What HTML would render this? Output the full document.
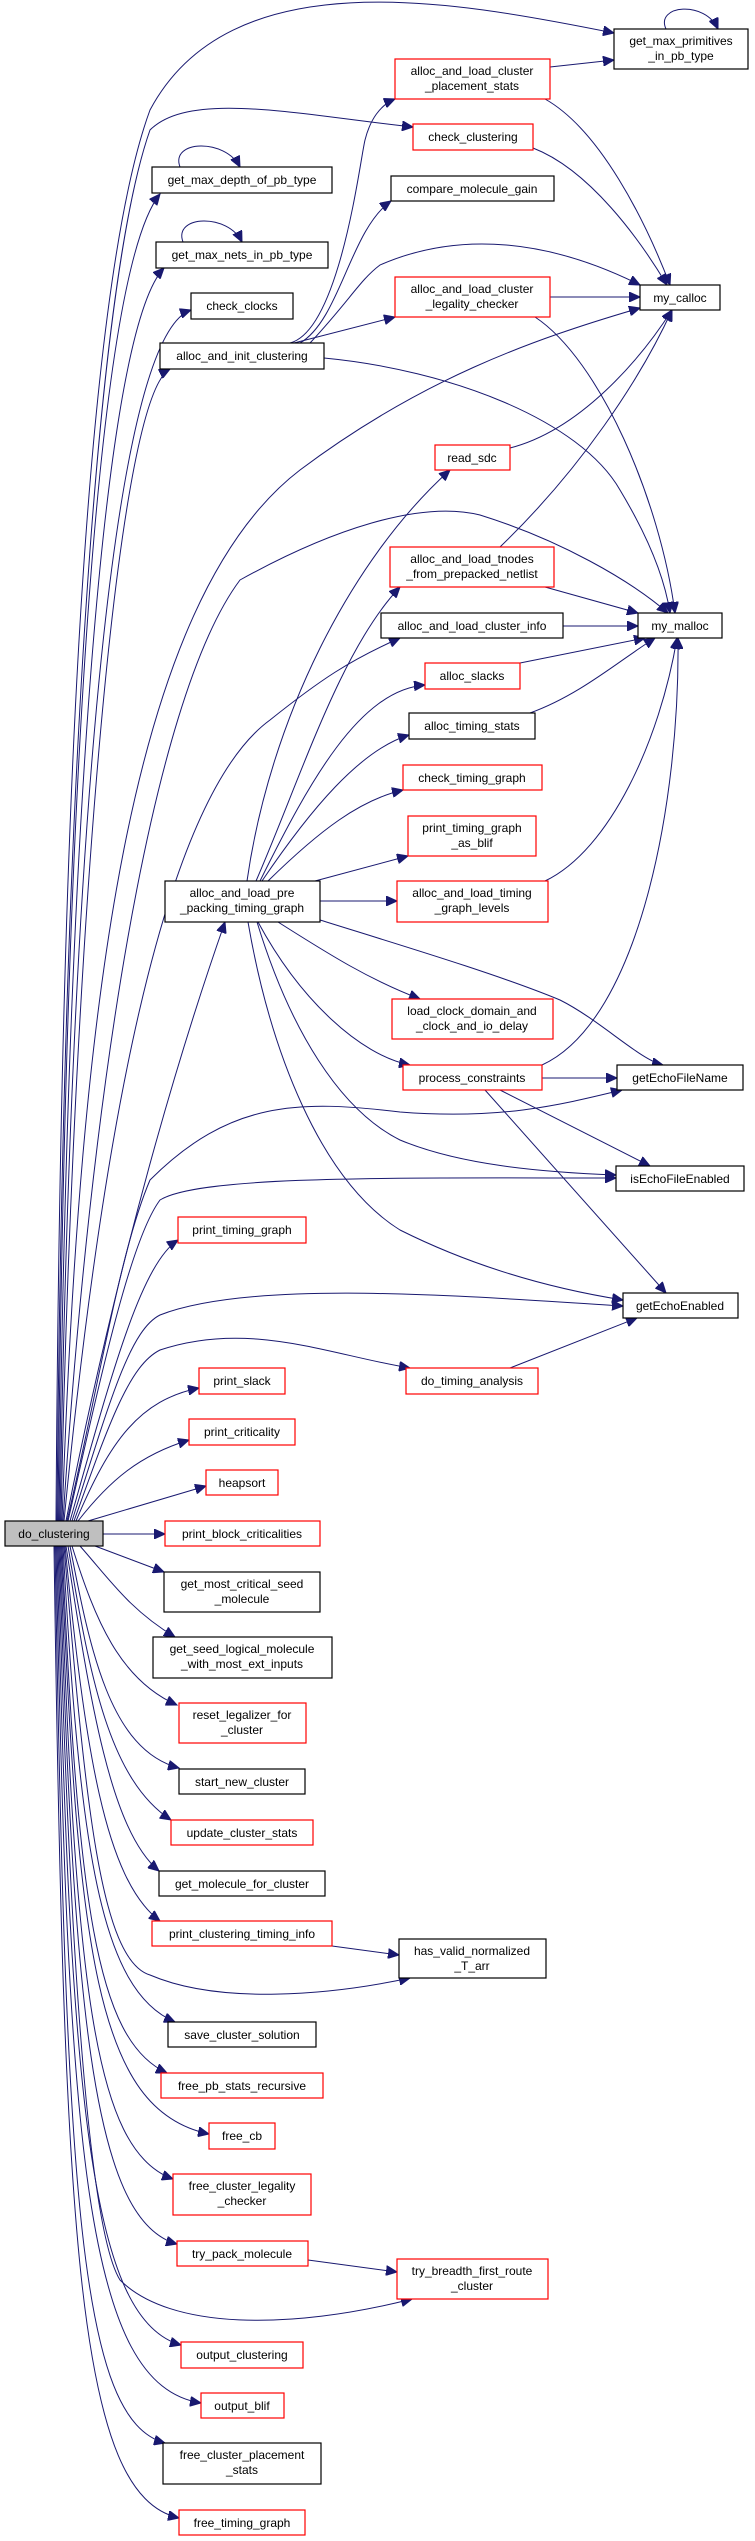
<!DOCTYPE html>
<html><head><meta charset="utf-8"><style>
html,body{margin:0;padding:0;background:#fff;}
svg{display:block;}
text{font-family:"Liberation Sans",Arial,sans-serif;font-size:12px;fill:#000;}
.b{fill:#fff;stroke:#000;stroke-width:1.2;}
.r{fill:#fff;stroke:#ff0000;stroke-width:1.2;}
.g{fill:#bfbfbf;stroke:#000;stroke-width:1.2;}
.e{fill:none;stroke:#191970;stroke-width:1;marker-end:url(#a);}
</style></head><body>
<svg width="755" height="2541" viewBox="0 0 755 2541" xmlns="http://www.w3.org/2000/svg">
<defs><marker id="a" markerUnits="userSpaceOnUse" markerWidth="12" markerHeight="10" refX="11" refY="5" orient="auto"><path d="M0,0 L11,5 L0,10 Z" fill="#191970" stroke="#191970"/></marker></defs>

<!-- edges from do_clustering upward -->
<path class="e" d="M56,1521 C60,900 80,300 150,110 C230,-40 450,0 614,33"/>
<path class="e" d="M57,1521 C62,900 90,300 150,130 C190,90 300,115 413,127"/>
<path class="e" d="M58,1521 C64,900 90,280 160,194"/>
<path class="e" d="M59,1521 C66,950 95,340 164,268"/>
<path class="e" d="M60,1521 C68,1000 100,340 191,310"/>
<path class="e" d="M61,1521 C70,1050 110,400 170,369"/>
<path class="e" d="M62,1521 C80,1000 130,600 300,470 C420,380 530,340 640,308"/>
<path class="e" d="M63,1521 C90,1100 150,700 240,580 C330,530 420,500 480,515 C560,540 630,580 668,613"/>
<path class="e" d="M64,1521 C100,1150 160,800 270,720 C320,680 350,660 400,638"/>
<path class="e" d="M66,1521 C120,1250 180,1050 225,922"/>
<path class="e" d="M67,1521 C100,1380 120,1250 150,1180 C230,1100 300,1100 400,1112 C500,1120 560,1105 622,1090"/>
<path class="e" d="M68,1521 C100,1380 130,1240 160,1200 C200,1175 400,1178 616,1178"/>
<path class="e" d="M70,1521 C110,1380 140,1265 178,1240"/>
<path class="e" d="M72,1521 C110,1400 130,1330 160,1315 C250,1280 450,1295 623,1306"/>
<path class="e" d="M74,1521 C110,1420 130,1365 160,1350 C250,1320 330,1355 410,1368"/>
<path class="e" d="M76,1521 C110,1440 140,1400 199,1388"/>
<path class="e" d="M78,1521 C110,1480 140,1455 189,1440"/>
<path class="e" d="M88,1521 L206,1486"/>
<!-- downward -->
<path class="e" d="M103,1534 L165,1534"/>
<path class="e" d="M95,1546 L164,1572"/>
<path class="e" d="M80,1546 C110,1580 130,1610 175,1637"/>
<path class="e" d="M72,1546 C95,1620 120,1680 177,1705"/>
<path class="e" d="M70,1546 C90,1650 110,1750 179,1768"/>
<path class="e" d="M68,1546 C90,1680 110,1780 171,1820"/>
<path class="e" d="M66,1546 C90,1700 110,1830 159,1871"/>
<path class="e" d="M65,1546 C85,1750 105,1880 160,1921"/>
<path class="e" d="M64,1546 C85,1800 100,1960 150,1975 C220,2005 330,1995 410,1978"/>
<path class="e" d="M63,1546 C80,1850 100,1990 175,2022"/>
<path class="e" d="M62,1546 C78,1900 95,2040 167,2073"/>
<path class="e" d="M61,1546 C78,1950 95,2110 209,2134"/>
<path class="e" d="M60,1546 C76,1980 92,2150 173,2179"/>
<path class="e" d="M59,1546 C74,2000 90,2220 177,2244"/>
<path class="e" d="M58,1546 C72,2050 95,2240 120,2280 C170,2330 290,2330 412,2299"/>
<path class="e" d="M57,1546 C70,2100 90,2320 181,2345"/>
<path class="e" d="M56,1546 C68,2150 85,2385 201,2403"/>
<path class="e" d="M55,1546 C66,2200 80,2420 165,2443"/>
<path class="e" d="M54,1546 C64,2250 78,2495 179,2518"/>

<!-- alloc_and_init_clustering -->
<path class="e" d="M290,343 C340,330 360,160 365,140 C370,120 380,105 395,99"/>
<path class="e" d="M300,343 C340,320 350,230 391,201"/>
<path class="e" d="M294,343 L395,317"/>
<path class="e" d="M310,343 C350,300 360,280 380,265 C460,230 550,240 640,285"/>
<path class="e" d="M324,358 C450,370 580,420 620,490 C650,540 665,580 670,613"/>
<!-- others -->
<path class="e" d="M550,67 L614,60"/>
<path class="e" d="M545,99 C600,130 645,220 670,285"/>
<path class="e" d="M533,148 C590,170 640,240 667,285"/>
<path class="e" d="M550,297 L640,297"/>
<path class="e" d="M535,317 C600,360 660,500 675,613"/>
<path class="e" d="M510,448 C580,430 640,360 672,310"/>
<path class="e" d="M500,547 C580,470 640,380 672,310"/>
<path class="e" d="M545,587 L638,613"/>
<path class="e" d="M563,626 L638,626"/>
<path class="e" d="M520,663 L645,638"/>
<path class="e" d="M530,713 C580,695 620,660 655,638"/>
<path class="e" d="M545,881 C610,850 660,740 677,638"/>
<path class="e" d="M542,1065 C640,1020 680,800 678,638"/>
<path class="e" d="M542,1078 L617,1078"/>
<path class="e" d="M500,1090 L650,1166"/>
<path class="e" d="M485,1090 L666,1293"/>
<path class="e" d="M510,1368 L637,1318"/>
<path class="e" d="M332,1946 L399,1955"/>
<path class="e" d="M308,2260 L397,2272"/>
<!-- pre_packing -->
<path class="e" d="M247,881 C270,720 350,560 450,470"/>
<path class="e" d="M256,881 C300,780 340,650 400,587"/>
<path class="e" d="M260,881 C310,780 360,690 425,685"/>
<path class="e" d="M262,881 C310,810 360,750 409,735"/>
<path class="e" d="M268,881 C320,830 360,800 403,790"/>
<path class="e" d="M315,881 L408,856"/>
<path class="e" d="M320,901 L397,901"/>
<path class="e" d="M320,920 C400,945 500,975 560,1000 C600,1020 640,1060 663,1065"/>
<path class="e" d="M278,922 C330,955 370,980 420,999"/>
<path class="e" d="M258,922 C300,1000 360,1055 410,1065"/>
<path class="e" d="M257,922 C290,1030 340,1110 400,1140 C460,1165 540,1172 616,1175"/>
<path class="e" d="M248,922 C270,1050 320,1180 400,1230 C480,1270 560,1290 623,1300"/>
<!-- self loops -->
<path class="e" d="M666,29 C655,5 705,0 718,29"/>
<path class="e" d="M180,167 C170,140 225,138 240,167"/>
<path class="e" d="M183,242 C173,215 228,213 242,242"/>

<!-- nodes -->
<rect class="b" x="614" y="29" width="134" height="40"/><text x="681" y="45" text-anchor="middle">get_max_primitives</text><text x="681" y="60" text-anchor="middle">_in_pb_type</text>
<rect class="r" x="395" y="59" width="155" height="40"/><text x="472" y="75" text-anchor="middle">alloc_and_load_cluster</text><text x="472" y="90" text-anchor="middle">_placement_stats</text>
<rect class="r" x="413" y="124" width="120" height="26"/><text x="473" y="141" text-anchor="middle">check_clustering</text>
<rect class="b" x="152" y="167" width="180" height="26"/><text x="242" y="184" text-anchor="middle">get_max_depth_of_pb_type</text>
<rect class="b" x="391" y="176" width="163" height="25"/><text x="472" y="193" text-anchor="middle">compare_molecule_gain</text>
<rect class="b" x="156" y="242" width="172" height="26"/><text x="242" y="259" text-anchor="middle">get_max_nets_in_pb_type</text>
<rect class="b" x="640" y="285" width="80" height="25"/><text x="680" y="302" text-anchor="middle">my_calloc</text>
<rect class="r" x="395" y="277" width="155" height="40"/><text x="472" y="293" text-anchor="middle">alloc_and_load_cluster</text><text x="472" y="308" text-anchor="middle">_legality_checker</text>
<rect class="b" x="191" y="293" width="102" height="26"/><text x="242" y="310" text-anchor="middle">check_clocks</text>
<rect class="b" x="160" y="343" width="164" height="26"/><text x="242" y="360" text-anchor="middle">alloc_and_init_clustering</text>
<rect class="r" x="435" y="445" width="75" height="25"/><text x="472" y="462" text-anchor="middle">read_sdc</text>
<rect class="r" x="390" y="547" width="164" height="40"/><text x="472" y="563" text-anchor="middle">alloc_and_load_tnodes</text><text x="472" y="578" text-anchor="middle">_from_prepacked_netlist</text>
<rect class="b" x="381" y="613" width="182" height="25"/><text x="472" y="630" text-anchor="middle">alloc_and_load_cluster_info</text>
<rect class="b" x="638" y="613" width="84" height="25"/><text x="680" y="630" text-anchor="middle">my_malloc</text>
<rect class="r" x="425" y="663" width="95" height="26"/><text x="472" y="680" text-anchor="middle">alloc_slacks</text>
<rect class="b" x="409" y="713" width="126" height="26"/><text x="472" y="730" text-anchor="middle">alloc_timing_stats</text>
<rect class="r" x="403" y="765" width="139" height="25"/><text x="472" y="782" text-anchor="middle">check_timing_graph</text>
<rect class="r" x="408" y="816" width="128" height="40"/><text x="472" y="832" text-anchor="middle">print_timing_graph</text><text x="472" y="847" text-anchor="middle">_as_blif</text>
<rect class="b" x="165" y="881" width="155" height="41"/><text x="242" y="897" text-anchor="middle">alloc_and_load_pre</text><text x="242" y="912" text-anchor="middle">_packing_timing_graph</text>
<rect class="r" x="397" y="881" width="151" height="41"/><text x="472" y="897" text-anchor="middle">alloc_and_load_timing</text><text x="472" y="912" text-anchor="middle">_graph_levels</text>
<rect class="r" x="392" y="999" width="161" height="40"/><text x="472" y="1015" text-anchor="middle">load_clock_domain_and</text><text x="472" y="1030" text-anchor="middle">_clock_and_io_delay</text>
<rect class="r" x="403" y="1065" width="139" height="25"/><text x="472" y="1082" text-anchor="middle">process_constraints</text>
<rect class="b" x="617" y="1065" width="126" height="25"/><text x="680" y="1082" text-anchor="middle">getEchoFileName</text>
<rect class="b" x="616" y="1166" width="128" height="25"/><text x="680" y="1183" text-anchor="middle">isEchoFileEnabled</text>
<rect class="r" x="178" y="1217" width="128" height="26"/><text x="242" y="1234" text-anchor="middle">print_timing_graph</text>
<rect class="b" x="623" y="1293" width="115" height="25"/><text x="680" y="1310" text-anchor="middle">getEchoEnabled</text>
<rect class="r" x="406" y="1368" width="132" height="26"/><text x="472" y="1385" text-anchor="middle">do_timing_analysis</text>
<rect class="r" x="199" y="1368" width="86" height="26"/><text x="242" y="1385" text-anchor="middle">print_slack</text>
<rect class="r" x="189" y="1419" width="106" height="26"/><text x="242" y="1436" text-anchor="middle">print_criticality</text>
<rect class="r" x="206" y="1470" width="72" height="25"/><text x="242" y="1487" text-anchor="middle">heapsort</text>
<rect class="g" x="5" y="1521" width="98" height="25"/><text x="54" y="1538" text-anchor="middle">do_clustering</text>
<rect class="r" x="165" y="1521" width="155" height="25"/><text x="242" y="1538" text-anchor="middle">print_block_criticalities</text>
<rect class="b" x="164" y="1572" width="156" height="40"/><text x="242" y="1588" text-anchor="middle">get_most_critical_seed</text><text x="242" y="1603" text-anchor="middle">_molecule</text>
<rect class="b" x="153" y="1637" width="179" height="41"/><text x="242" y="1653" text-anchor="middle">get_seed_logical_molecule</text><text x="242" y="1668" text-anchor="middle">_with_most_ext_inputs</text>
<rect class="r" x="179" y="1703" width="127" height="40"/><text x="242" y="1719" text-anchor="middle">reset_legalizer_for</text><text x="242" y="1734" text-anchor="middle">_cluster</text>
<rect class="b" x="179" y="1769" width="126" height="25"/><text x="242" y="1786" text-anchor="middle">start_new_cluster</text>
<rect class="r" x="171" y="1820" width="142" height="25"/><text x="242" y="1837" text-anchor="middle">update_cluster_stats</text>
<rect class="b" x="159" y="1871" width="166" height="25"/><text x="242" y="1888" text-anchor="middle">get_molecule_for_cluster</text>
<rect class="r" x="152" y="1921" width="180" height="25"/><text x="242" y="1938" text-anchor="middle">print_clustering_timing_info</text>
<rect class="b" x="399" y="1939" width="147" height="39"/><text x="472" y="1955" text-anchor="middle">has_valid_normalized</text><text x="472" y="1970" text-anchor="middle">_T_arr</text>
<rect class="b" x="168" y="2022" width="148" height="25"/><text x="242" y="2039" text-anchor="middle">save_cluster_solution</text>
<rect class="r" x="161" y="2073" width="162" height="25"/><text x="242" y="2090" text-anchor="middle">free_pb_stats_recursive</text>
<rect class="r" x="209" y="2123" width="66" height="26"/><text x="242" y="2140" text-anchor="middle">free_cb</text>
<rect class="r" x="173" y="2174" width="138" height="41"/><text x="242" y="2190" text-anchor="middle">free_cluster_legality</text><text x="242" y="2205" text-anchor="middle">_checker</text>
<rect class="r" x="177" y="2241" width="131" height="25"/><text x="242" y="2258" text-anchor="middle">try_pack_molecule</text>
<rect class="r" x="397" y="2259" width="151" height="40"/><text x="472" y="2275" text-anchor="middle">try_breadth_first_route</text><text x="472" y="2290" text-anchor="middle">_cluster</text>
<rect class="r" x="181" y="2342" width="122" height="26"/><text x="242" y="2359" text-anchor="middle">output_clustering</text>
<rect class="r" x="201" y="2393" width="83" height="25"/><text x="242" y="2410" text-anchor="middle">output_blif</text>
<rect class="b" x="163" y="2443" width="158" height="41"/><text x="242" y="2459" text-anchor="middle">free_cluster_placement</text><text x="242" y="2474" text-anchor="middle">_stats</text>
<rect class="r" x="179" y="2510" width="126" height="25"/><text x="242" y="2527" text-anchor="middle">free_timing_graph</text>
</svg>
</body></html>
